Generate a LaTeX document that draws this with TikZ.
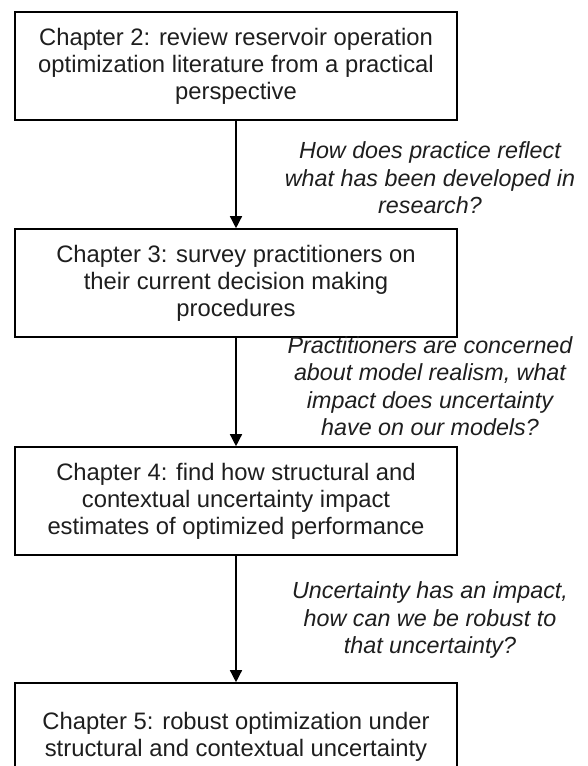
\documentclass[tikz,border=0pt]{standalone}
\usepackage{fontspec}
\setmainfont{Liberation Sans}
\usetikzlibrary{arrows.meta}

\definecolor{inkgray}{HTML}{1E1E1E}

\tikzset{
  chapterbox/.style={draw=black, line width=1.6pt, minimum width=442pt, minimum height=108pt,
    inner sep=0pt, align=center, text=inkgray, font=\fontsize{23.8}{27}\selectfont},
  question/.style={align=center, inner sep=0pt, text=inkgray,
    font=\fontsize{23.3}{27.5}\selectfont\itshape},
  flow/.style={line width=1.4pt, -{Triangle[width=12pt,length=12pt]}}
}

\begin{document}
\begin{tikzpicture}[x=1pt, y=-1pt]
  \clip (0,0) rectangle (588,766);
  \useasboundingbox (0,0) rectangle (588,766);

  % chapter boxes
  \node[chapterbox] (c2) at (236,66)
    {Chapter 2: review reservoir operation\\optimization literature from a practical\\perspective};
  \node[chapterbox] (c3) at (236,283)
    {Chapter 3: survey practitioners on\\their current decision making\\procedures};
  \node[chapterbox] (c4) at (236,501)
    {Chapter 4: find how structural and\\contextual uncertainty impact\\estimates of optimized performance};
  \node[chapterbox] (c5) at (236,737)
    {Chapter 5: robust optimization under\\structural and contextual uncertainty};

  % questions linking the chapters
  \node[question] (q1) at (430,178)
    {How does practice reflect\\what has been developed in\\research?};
  \node[question] (q2) at (430,386)
    {Practitioners are concerned\\about model realism, what\\impact does uncertainty\\have on our models?};
  \node[question] (q3) at (430,620)
    {Uncertainty has an impact,\\how can we be robust to\\that uncertainty?};

  % flow between chapters
  \draw[flow] (c2.south) -- (c3.north);
  \draw[flow] (c3.south) -- (c4.north);
  \draw[flow] (c4.south) -- (c5.north);
\end{tikzpicture}
\end{document}
